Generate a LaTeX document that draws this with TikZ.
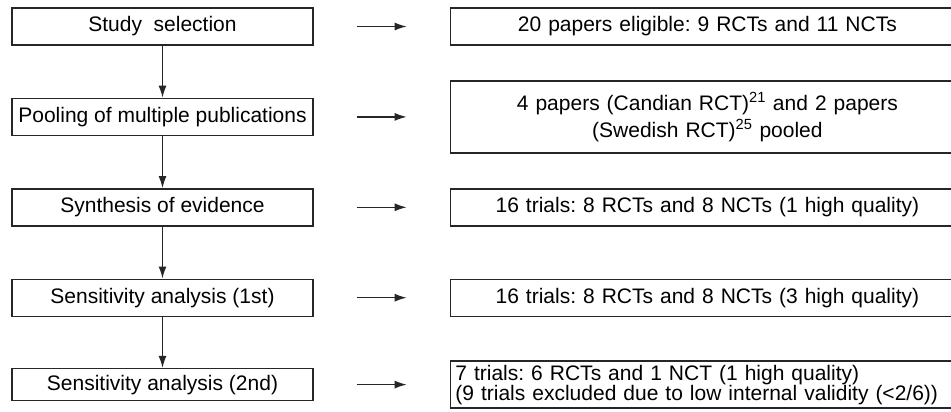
\documentclass[tikz,border=0pt]{standalone}
\usepackage{fontspec}
\setmainfont{Liberation Sans}
\usetikzlibrary{positioning,arrows.meta}
\frenchspacing

\begin{document}
\begin{tikzpicture}[
    x=1pt, y=1pt,
    node distance=52pt and 136pt,
    >={Latex[length=12pt,width=8pt]},
    flow/.style={->, draw=black!85, line width=1.4pt},
    side/.style={flow, shorten <=43pt, shorten >=43pt},
    stage/.style={
        draw=black!85,
        line width=1.4pt,
        minimum width=301pt,
        minimum height=37pt,
        inner sep=0pt,
        font=\fontsize{21}{24}\selectfont
    },
    result/.style={
        draw=black!85,
        line width=1.4pt,
        text width=504pt,
        inner xsep=5pt,
        align=center,
        minimum height=37pt,
        font=\fontsize{21}{24}\selectfont
    }
]
    \useasboundingbox (0,0) rectangle (951,-412);

    % Coluna da esquerda: etapas da revisao
    \node[stage] (sel) at (162.5,-26.5) {Study~ selection};
    \node[stage, below=of sel] (pool) {Pooling of multiple publications};
    \node[stage, below=of pool] (synth) {Synthesis of evidence};
    \node[stage, below=of synth] (sensA) {Sensitivity analysis (1st)};
    \node[stage, below=51pt of sensA, minimum height=32pt] (sensB) {Sensitivity analysis (2nd)};

    % Coluna da direita: resultados de cada etapa
    \node[result, right=of sel] (selR) {20 papers eligible: 9 RCTs and 11 NCTs};
    \node[result, right=of pool, minimum height=72pt] (poolR)
        {4 papers (Candian RCT)\textsuperscript{21} and 2 papers\\[3pt]
         (Swedish RCT)\textsuperscript{25} pooled};
    \node[result, right=of synth] (synthR) {16 trials: 8 RCTs and 8 NCTs (1 high quality)};
    \node[result, right=of sensA] (sensAR) {16 trials: 8 RCTs and 8 NCTs (3 high quality)};
    \node[result, right=of sensB, align=left, minimum height=47pt] (sensBR)
        {7 trials: 6 RCTs and 1 NCT (1 high quality)\\[-4pt]
         (9 trials excluded due to low internal validity (<2/6))};

    % Setas entre as etapas
    \draw[flow] (sel) -- (pool);
    \draw[flow] (pool) -- (synth);
    \draw[flow] (synth) -- (sensA);
    \draw[flow] (sensA) -- (sensB);

    % Setas para os resultados
    \draw[side] (sel) -- (selR);
    \draw[side] (pool) -- (poolR);
    \draw[side] (synth) -- (synthR);
    \draw[side] (sensA) -- (sensAR);
    \draw[side] (sensB) -- (sensBR);
\end{tikzpicture}
\end{document}
